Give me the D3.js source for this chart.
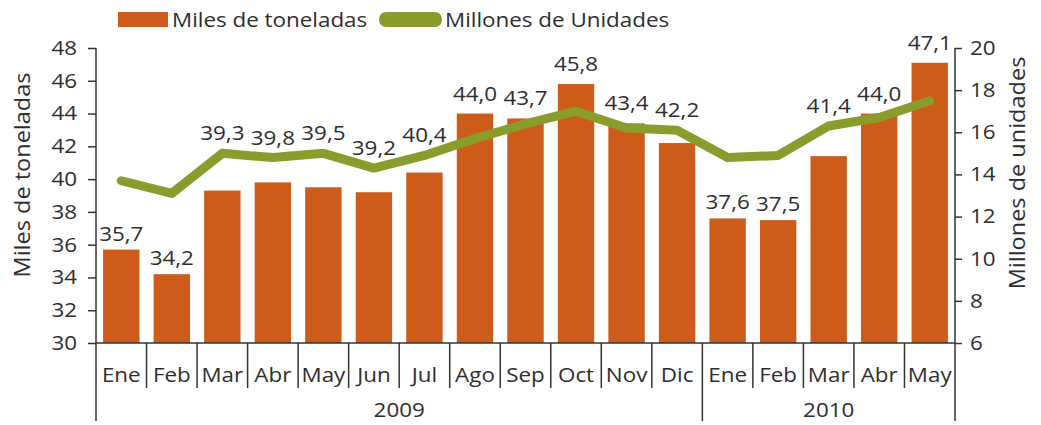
<!DOCTYPE html>
<html>
<head>
<meta charset="utf-8">
<script src="https://cdn.jsdelivr.net/npm/d3@7"></script>
<style>
  html, body { margin: 0; padding: 0; background: #fff; }
  svg { display: block; }
  text { font-family: "Open Sans", "Noto Sans", sans-serif; fill: #2e2e2e; }
</style>
</head>
<body>
<svg id="chart" width="1041" height="425"></svg>
<script>
// Monthly categories and their year
const months = ["Ene","Feb","Mar","Abr","May","Jun","Jul","Ago","Sep","Oct","Nov","Dic","Ene","Feb","Mar","Abr","May"];
const monthYear = ["2009","2009","2009","2009","2009","2009","2009","2009","2009","2009","2009","2009","2010","2010","2010","2010","2010"];

// Series: thousands of tonnes (bars, left axis) and millions of units (line, right axis)
const tonnes = [35.7, 34.2, 39.3, 39.8, 39.5, 39.2, 40.4, 44.0, 43.7, 45.8, 43.4, 42.2, 37.6, 37.5, 41.4, 44.0, 47.1];
const units  = [13.7, 13.1, 15.0, 14.8, 15.0, 14.3, 14.9, 15.7, 16.4, 17.0, 16.2, 16.1, 14.8, 14.9, 16.3, 16.7, 17.5];

// Axis ticks
const leftTicks  = [30, 32, 34, 36, 38, 40, 42, 44, 46, 48];
const rightTicks = [6, 8, 10, 12, 14, 16, 18, 20];

// Legend / titles
const seriesNames = ["Miles de toneladas", "Millones de Unidades"];
const leftTitle = "Miles de toneladas";
const rightTitle = "Millones de unidades";

const BAR = "#cd5b1a";
const LINE = "#8a9c2c";
const AXIS = "#333";
const FS = 20;          // base font size
const SX = 1.12;        // horizontal widening of the lettering

const svg = d3.select("#chart");
const plotLeft = 96, plotRight = 955, plotTop = 48, plotBottom = 343;

// Widen text glyphs horizontally about their anchor point
function widen(sel, extra) {
  sel.each(function () {
    const t = d3.select(this);
    const tx = +t.attr("x") || 0, ty = +t.attr("y") || 0;
    t.attr("x", 0).attr("y", 0)
     .attr("transform", `translate(${tx},${ty})${extra || ""} scale(${SX},1)`);
  });
}

const idx = months.map((_, i) => i);
const x = d3.scaleBand().domain(idx).range([plotLeft, plotRight]).paddingInner(0.28).paddingOuter(0.14);
const yL = d3.scaleLinear().domain([30, 48]).range([plotBottom, plotTop]);
const yR = d3.scaleLinear().domain([6, 20]).range([plotBottom, plotTop]);
const step = x.step();
const cx = i => x(i) + x.bandwidth() / 2;

const fmt = d3.formatLocale({ decimal: ",", thousands: ".", grouping: [3], currency: ["", ""] }).format(".1f");

// Bars
svg.append("g").selectAll("rect").data(tonnes).join("rect")
  .attr("x", (d, i) => x(i))
  .attr("y", d => yL(d))
  .attr("width", x.bandwidth())
  .attr("height", d => yL(30) - yL(d))
  .attr("fill", BAR);

// Line
const line = d3.line().x((d, i) => cx(i)).y(d => yR(d));
svg.append("path").datum(units)
  .attr("d", line)
  .attr("fill", "none")
  .attr("stroke", LINE)
  .attr("stroke-width", 9)
  .attr("stroke-linejoin", "round")
  .attr("stroke-linecap", "round");

// Left axis
const gL = svg.append("g").attr("transform", `translate(${plotLeft},0)`)
  .call(d3.axisLeft(yL).tickValues(leftTicks).tickSize(8).tickPadding(11).tickFormat(d3.format("d")));
gL.select(".domain").remove();
gL.selectAll("line").attr("stroke", AXIS).attr("stroke-width", 1.5);
gL.selectAll("text").style("font-size", FS + "px").attr("fill", "#2e2e2e").attr("font-family", null);
widen(gL.selectAll("text"));

// Right axis
const gR = svg.append("g").attr("transform", `translate(${plotRight},0)`)
  .call(d3.axisRight(yR).tickValues(rightTicks).tickSize(7).tickPadding(8).tickFormat(d3.format("d")));
gR.select(".domain").remove();
gR.selectAll("line").attr("stroke", AXIS).attr("stroke-width", 1.5);
gR.selectAll("text").style("font-size", FS + "px").attr("fill", "#2e2e2e").attr("font-family", null);
widen(gR.selectAll("text"));

// Vertical axis lines (extend down past the category row)
const axisBottomEnd = 421;
[plotLeft, plotRight].forEach(xx => {
  svg.append("line").attr("x1", xx).attr("x2", xx).attr("y1", plotTop).attr("y2", axisBottomEnd)
    .attr("stroke", AXIS).attr("stroke-width", 1.5);
});

// Baseline
svg.append("line").attr("x1", plotLeft).attr("x2", plotRight).attr("y1", plotBottom).attr("y2", plotBottom)
  .attr("stroke", AXIS).attr("stroke-width", 1.5);

// Category separators: tall at year boundaries, short otherwise
idx.slice(1).forEach(i => {
  const bx = x(i) - step * x.paddingInner() / 2;
  const yearChange = monthYear[i] !== monthYear[i - 1];
  svg.append("line").attr("x1", bx).attr("x2", bx)
    .attr("y1", plotBottom).attr("y2", yearChange ? axisBottomEnd : 388)
    .attr("stroke", AXIS).attr("stroke-width", 1.5);
});

// Month labels
const monthText = svg.append("g").selectAll("text").data(months).join("text")
  .attr("x", (d, i) => cx(i))
  .attr("y", 375)
  .attr("dy", "0.35em")
  .attr("text-anchor", "middle")
  .style("font-size", FS + "px")
  .text(d => d);
widen(monthText);

// Year labels centred under their months
const yearList = Array.from(new Set(monthYear));
yearList.forEach(yr => {
  const members = idx.filter(i => monthYear[i] === yr);
  const x0 = x(members[0]) - step * x.paddingInner() / 2;
  const x1 = x(members[members.length - 1]) + x.bandwidth() + step * x.paddingInner() / 2;
  const t = svg.append("text")
    .attr("x", (x0 + x1) / 2)
    .attr("y", 410)
    .attr("dy", "0.35em")
    .attr("text-anchor", "middle")
    .style("font-size", FS + "px")
    .text(yr);
  widen(t);
});

// Value labels on bars: placed above the bar, or above the line when the line is close
const valueText = svg.append("g").selectAll("text").data(tonnes).join("text")
  .attr("x", (d, i) => cx(i))
  .attr("y", (d, i) => {
    const barTop = yL(d), lineY = yR(units[i]);
    if (barTop - lineY > 50) return barTop - 16;
    return Math.min(barTop, lineY) - 20;
  })
  .attr("dy", "0.35em")
  .attr("text-anchor", "middle")
  .style("font-size", FS + "px")
  .text(d => fmt(d));
widen(valueText);

// Axis titles
const titleL = svg.append("text")
  .attr("x", 23).attr("y", 175)
  .attr("text-anchor", "middle")
  .attr("dy", "0.35em")
  .style("font-size", (FS + 1) + "px")
  .text(leftTitle);
widen(titleL, " rotate(-90)");

const titleR = svg.append("text")
  .attr("x", 1018).attr("y", 173)
  .attr("text-anchor", "middle")
  .attr("dy", "0.35em")
  .style("font-size", (FS + 1) + "px")
  .text(rightTitle);
widen(titleR, " rotate(-90)");

// Legend
const lg = svg.append("g");
lg.append("rect").attr("x", 118).attr("y", 12).attr("width", 50).attr("height", 15).attr("fill", BAR);
widen(lg.append("text").attr("x", 172).attr("y", 20).attr("dy", "0.35em").style("font-size", FS + "px").text(seriesNames[0]));
lg.append("rect").attr("x", 379).attr("y", 12).attr("width", 63).attr("height", 15).attr("rx", 7).attr("fill", LINE);
widen(lg.append("text").attr("x", 445).attr("y", 20).attr("dy", "0.35em").style("font-size", FS + "px").text(seriesNames[1]));
</script>
</body>
</html>
